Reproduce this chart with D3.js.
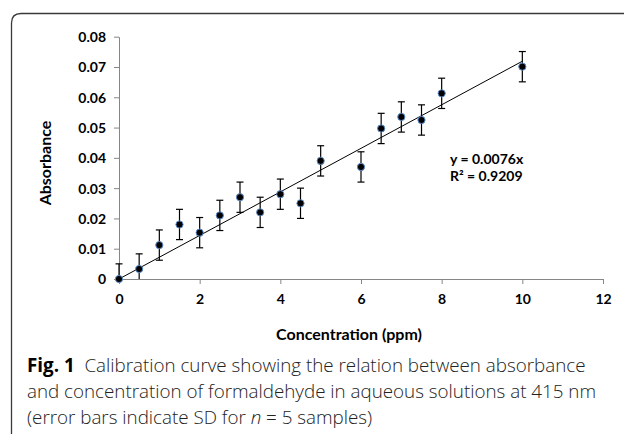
<!DOCTYPE html>
<html>
<head>
<meta charset="utf-8">
<script src="https://cdn.jsdelivr.net/npm/d3@7"></script>
<style>
  body { margin:0; background:#fff; }
  svg text { fill:#000; }
  .axis-lbl { font-family: Lato, "Open Sans", sans-serif; font-weight:700; }
  .caption { font-family: "Open Sans", "Noto Sans", sans-serif; font-weight:300; fill:#222; }
</style>
</head>
<body>
<div id="chart"></div>
<script>
// concentration (ppm) vs absorbance
let conc = [0, 0.5, 1, 1.5, 2, 2.5, 3, 3.5, 4, 4.5, 5, 6, 6.5, 7, 7.5, 8, 10];
let absorb = [0, 0.0033, 0.0112, 0.018, 0.0153, 0.021, 0.027, 0.022, 0.028, 0.025, 0.039, 0.037, 0.0497, 0.0535, 0.0525, 0.0613, 0.0701];
let sd = [0.005, 0.005, 0.005, 0.005, 0.005, 0.005, 0.005, 0.005, 0.005, 0.005, 0.005, 0.005, 0.005, 0.005, 0.005, 0.005, 0.005];
let xTicks = [0, 2, 4, 6, 8, 10, 12];
let yTicks = [0, 0.01, 0.02, 0.03, 0.04, 0.05, 0.06, 0.07, 0.08];
let trendLine = [[0, 0], [10, 0.0719]];
let eqText = ['y = 0.0076x', 'R² = 0.9209'];
let captionLines = [
    ['Fig. 1', '  Calibration curve showing the relation between absorbance'],
    ['', 'and concentration of formaldehyde in aqueous solutions at 415 nm'],
    ['', '(error bars indicate SD for ', 'n', ' = 5 samples)']
];

let sizes = {width:624, height:434};
let axisColor = '#868686';

let svg = d3.select('#chart').append('svg')
    .attr('width', sizes.width)
    .attr('height', sizes.height);

// frame with rounded top-left corner, open to right/bottom
svg.append('path')
    .attr('d', 'M11.5,440 L11.5,23 Q11.5,13.5 21,13.5 L640,13.5')
    .attr('fill', 'none')
    .attr('stroke', '#3a3a3a')
    .attr('stroke-width', 1.3);

let x = d3.scaleLinear().domain([0, 12]).range([119, 603]);
let y = d3.scaleLinear().domain([0, 0.08]).range([279, 36.7]);

// axes
let xAxis = svg.append('g')
    .attr('transform', 'translate(0,' + y(0) + ')')
    .call(d3.axisBottom(x).tickValues(xTicks).tickSize(5).tickSizeOuter(0).tickFormat(d3.format('d')));
let yAxis = svg.append('g')
    .attr('transform', 'translate(' + x(0) + ',0)')
    .call(d3.axisLeft(y).tickValues(yTicks).tickSize(5).tickSizeOuter(0)
        .tickFormat(d => d === 0 ? '0' : d3.format('.2f')(d)));

[xAxis, yAxis].forEach(a => {
    a.select('.domain').attr('stroke', axisColor).attr('stroke-width', 1);
    a.selectAll('.tick line').attr('stroke', axisColor);
    a.selectAll('.tick text')
        .attr('class', 'axis-lbl')
        .style('font-size', '14px')
        .attr('fill', '#000');
});
xAxis.selectAll('.tick text').attr('dy', null).attr('y', 25);
yAxis.selectAll('.tick text').attr('x', -13).attr('dy', '0.35em');

// axis titles
svg.append('text')
    .attr('class', 'axis-lbl')
    .attr('transform', 'translate(51,163) rotate(-90)')
    .attr('text-anchor', 'middle')
    .style('font-size', '16px')
    .text('Absorbance');
svg.append('text')
    .attr('class', 'axis-lbl')
    .attr('x', 349).attr('y', 340)
    .attr('text-anchor', 'middle')
    .style('font-size', '16px')
    .text('Concentration (ppm)');

// trend line
svg.append('line')
    .attr('x1', x(trendLine[0][0])).attr('y1', y(trendLine[0][1]))
    .attr('x2', x(trendLine[1][0])).attr('y2', y(trendLine[1][1]))
    .attr('stroke', '#000')
    .attr('stroke-width', 1);

// error bars
let pts = conc.map((c, i) => ({c: c, a: absorb[i], e: sd[i]}));
let eb = svg.append('g').selectAll('g')
    .data(pts)
    .enter()
    .append('g')
    .attr('stroke', '#000')
    .attr('stroke-width', 1.2);
eb.append('line')
    .attr('x1', d => x(d.c)).attr('x2', d => x(d.c))
    .attr('y1', d => y(d.a + d.e))
    .attr('y2', d => y(Math.max(0, d.a - d.e)));
eb.append('line')
    .attr('x1', d => x(d.c) - 3.5).attr('x2', d => x(d.c) + 3.5)
    .attr('y1', d => y(d.a + d.e)).attr('y2', d => y(d.a + d.e));
eb.filter(d => d.a - d.e > 0).append('line')
    .attr('x1', d => x(d.c) - 3.5).attr('x2', d => x(d.c) + 3.5)
    .attr('y1', d => y(d.a - d.e)).attr('y2', d => y(d.a - d.e));

// markers
svg.append('g').selectAll('circle')
    .data(pts)
    .enter()
    .append('circle')
    .attr('cx', d => x(d.c))
    .attr('cy', d => y(d.a))
    .attr('r', 3.6)
    .attr('fill', '#000')
    .attr('stroke', '#5b8bc9')
    .attr('stroke-width', 1);

// equation
svg.append('g').selectAll('text')
    .data(eqText)
    .enter()
    .append('text')
    .attr('class', 'axis-lbl')
    .attr('x', 450)
    .attr('y', (d, i) => 164 + i * 17)
    .style('font-size', '14px')
    .text(d => d);

// caption
let cap = svg.append('g');
captionLines.forEach((parts, i) => {
    let t = cap.append('text')
        .attr('class', 'caption')
        .attr('x', 27)
        .attr('y', 372 + i * 26)
        .style('font-size', '18.8px')
        .attr('xml:space', 'preserve');
    parts.forEach((p, j) => {
        if (p === '') return;
        let s = t.append('tspan').text(p);
        if (i === 0 && j === 0) s.style('font-weight', 700).style('fill', '#000');
        if (i === 2 && j === 2) s.style('font-style', 'italic');
    });
});
</script>
</body>
</html>
